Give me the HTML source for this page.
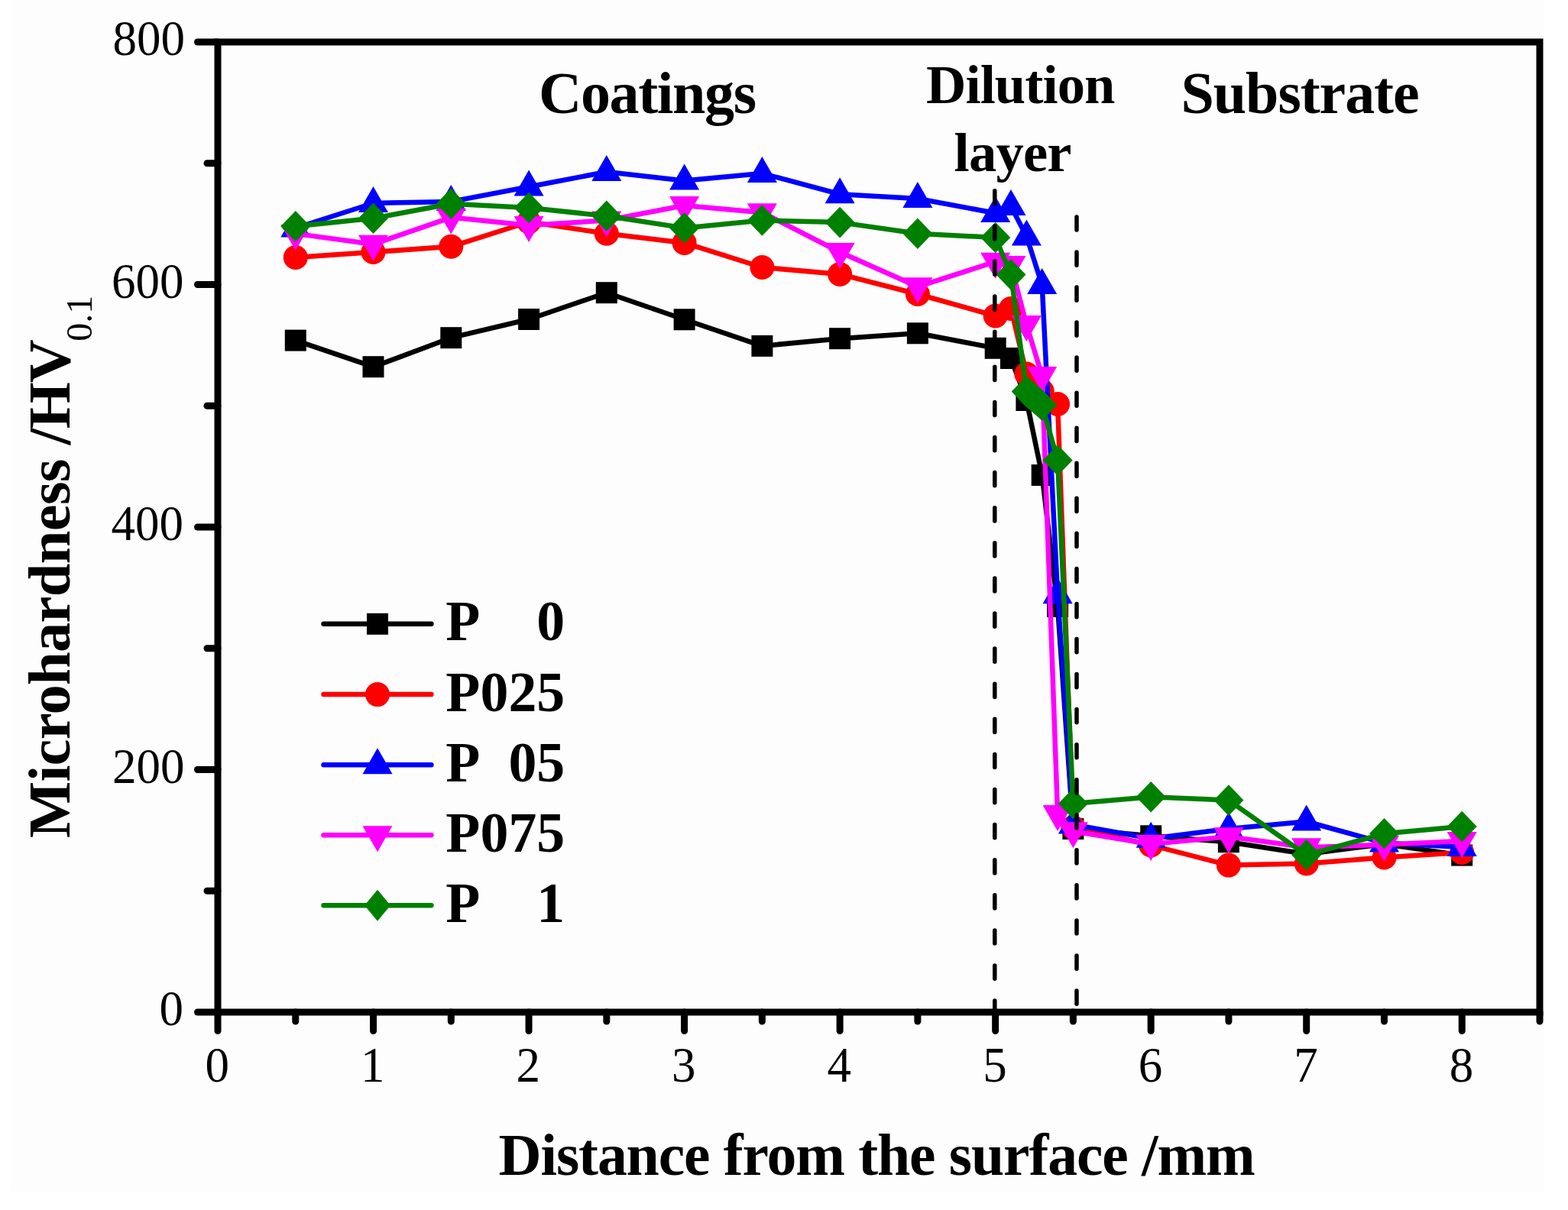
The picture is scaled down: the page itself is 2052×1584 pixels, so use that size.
<!DOCTYPE html>
<html><head><meta charset="utf-8"><title>Microhardness profile</title>
<style>html,body{margin:0;padding:0;background:#fff;}svg{display:block;}text{font-family:"Liberation Serif","Times New Roman",serif;fill:#000;}</style></head><body>
<svg width="2052" height="1584" viewBox="0 0 2052 1584">
<rect x="0" y="0" width="2052" height="1584" fill="#fff"/>
<rect x="14" y="0" width="2006" height="1560" fill="#fdfdfd"/>
<g><polyline points="386.8,445.6 488.5,480.2 590.3,442.2 692.1,418.0 793.8,383.2 895.6,418.3 997.4,452.9 1099.1,443.2 1200.9,436.3 1302.7,455.8 1323.0,469.0 1343.4,524.0 1363.7,622.0 1384.1,794.0 1404.4,1085.0 1506.2,1094.3 1607.9,1102.2 1709.7,1118.0 1811.5,1105.0 1913.2,1119.6" fill="none" stroke="#000000" stroke-width="6.5" stroke-linejoin="round" stroke-linecap="round"/>
<rect x="372.8" y="431.6" width="28" height="28" fill="#000000"/>
<rect x="474.5" y="466.2" width="28" height="28" fill="#000000"/>
<rect x="576.3" y="428.2" width="28" height="28" fill="#000000"/>
<rect x="678.1" y="404.0" width="28" height="28" fill="#000000"/>
<rect x="779.8" y="369.2" width="28" height="28" fill="#000000"/>
<rect x="881.6" y="404.3" width="28" height="28" fill="#000000"/>
<rect x="983.4" y="438.9" width="28" height="28" fill="#000000"/>
<rect x="1085.1" y="429.2" width="28" height="28" fill="#000000"/>
<rect x="1186.9" y="422.3" width="28" height="28" fill="#000000"/>
<rect x="1288.7" y="441.8" width="28" height="28" fill="#000000"/>
<rect x="1309.0" y="455.0" width="28" height="28" fill="#000000"/>
<rect x="1329.4" y="510.0" width="28" height="28" fill="#000000"/>
<rect x="1349.7" y="608.0" width="28" height="28" fill="#000000"/>
<rect x="1370.1" y="780.0" width="28" height="28" fill="#000000"/>
<rect x="1390.4" y="1071.0" width="28" height="28" fill="#000000"/>
<rect x="1492.2" y="1080.3" width="28" height="28" fill="#000000"/>
<rect x="1593.9" y="1088.2" width="28" height="28" fill="#000000"/>
<rect x="1695.7" y="1104.0" width="28" height="28" fill="#000000"/>
<rect x="1797.5" y="1091.0" width="28" height="28" fill="#000000"/>
<rect x="1899.2" y="1105.6" width="28" height="28" fill="#000000"/>
</g>
<g><polyline points="386.8,337.0 488.5,330.0 590.3,322.8 692.1,290.5 793.8,305.7 895.6,317.9 997.4,350.0 1099.1,358.9 1200.9,385.0 1302.7,413.5 1323.0,404.0 1343.4,489.5 1363.7,512.0 1384.1,529.0 1404.4,1083.0 1506.2,1106.4 1607.9,1132.6 1709.7,1130.5 1811.5,1122.5 1913.2,1116.0" fill="none" stroke="#ff0000" stroke-width="6.5" stroke-linejoin="round" stroke-linecap="round"/>
<circle cx="386.8" cy="337.0" r="16" fill="#ff0000"/>
<circle cx="488.5" cy="330.0" r="16" fill="#ff0000"/>
<circle cx="590.3" cy="322.8" r="16" fill="#ff0000"/>
<circle cx="692.1" cy="290.5" r="16" fill="#ff0000"/>
<circle cx="793.8" cy="305.7" r="16" fill="#ff0000"/>
<circle cx="895.6" cy="317.9" r="16" fill="#ff0000"/>
<circle cx="997.4" cy="350.0" r="16" fill="#ff0000"/>
<circle cx="1099.1" cy="358.9" r="16" fill="#ff0000"/>
<circle cx="1200.9" cy="385.0" r="16" fill="#ff0000"/>
<circle cx="1302.7" cy="413.5" r="16" fill="#ff0000"/>
<circle cx="1323.0" cy="404.0" r="16" fill="#ff0000"/>
<circle cx="1343.4" cy="489.5" r="16" fill="#ff0000"/>
<circle cx="1363.7" cy="512.0" r="16" fill="#ff0000"/>
<circle cx="1384.1" cy="529.0" r="16" fill="#ff0000"/>
<circle cx="1404.4" cy="1083.0" r="16" fill="#ff0000"/>
<circle cx="1506.2" cy="1106.4" r="16" fill="#ff0000"/>
<circle cx="1607.9" cy="1132.6" r="16" fill="#ff0000"/>
<circle cx="1709.7" cy="1130.5" r="16" fill="#ff0000"/>
<circle cx="1811.5" cy="1122.5" r="16" fill="#ff0000"/>
<circle cx="1913.2" cy="1116.0" r="16" fill="#ff0000"/>
</g>
<g><polyline points="386.8,298.5 488.5,266.0 590.3,263.9 692.1,244.5 793.8,225.0 895.6,236.6 997.4,227.0 1099.1,254.2 1200.9,260.0 1302.7,279.0 1323.0,270.0 1343.4,309.5 1363.7,373.0 1384.1,778.3 1404.4,1079.4 1506.2,1097.8 1607.9,1085.0 1709.7,1075.5 1811.5,1103.5 1913.2,1109.0" fill="none" stroke="#0000ff" stroke-width="6.5" stroke-linejoin="round" stroke-linecap="round"/>
<polygon points="386.8,276.5 406.3,310.5 367.3,310.5" fill="#0000ff"/>
<polygon points="488.5,244.0 508.0,278.0 469.0,278.0" fill="#0000ff"/>
<polygon points="590.3,241.9 609.8,275.9 570.8,275.9" fill="#0000ff"/>
<polygon points="692.1,222.5 711.6,256.5 672.6,256.5" fill="#0000ff"/>
<polygon points="793.8,203.0 813.3,237.0 774.3,237.0" fill="#0000ff"/>
<polygon points="895.6,214.6 915.1,248.6 876.1,248.6" fill="#0000ff"/>
<polygon points="997.4,205.0 1016.9,239.0 977.9,239.0" fill="#0000ff"/>
<polygon points="1099.1,232.2 1118.6,266.2 1079.6,266.2" fill="#0000ff"/>
<polygon points="1200.9,238.0 1220.4,272.0 1181.4,272.0" fill="#0000ff"/>
<polygon points="1302.7,257.0 1322.2,291.0 1283.2,291.0" fill="#0000ff"/>
<polygon points="1323.0,248.0 1342.5,282.0 1303.5,282.0" fill="#0000ff"/>
<polygon points="1343.4,287.5 1362.9,321.5 1323.9,321.5" fill="#0000ff"/>
<polygon points="1363.7,351.0 1383.2,385.0 1344.2,385.0" fill="#0000ff"/>
<polygon points="1384.1,756.3 1403.6,790.3 1364.6,790.3" fill="#0000ff"/>
<polygon points="1404.4,1057.4 1423.9,1091.4 1384.9,1091.4" fill="#0000ff"/>
<polygon points="1506.2,1075.8 1525.7,1109.8 1486.7,1109.8" fill="#0000ff"/>
<polygon points="1607.9,1063.0 1627.4,1097.0 1588.4,1097.0" fill="#0000ff"/>
<polygon points="1709.7,1053.5 1729.2,1087.5 1690.2,1087.5" fill="#0000ff"/>
<polygon points="1811.5,1081.5 1831.0,1115.5 1792.0,1115.5" fill="#0000ff"/>
<polygon points="1913.2,1087.0 1932.7,1121.0 1893.7,1121.0" fill="#0000ff"/>
</g>
<g><polyline points="386.8,305.9 488.5,319.8 590.3,284.6 692.1,295.0 793.8,288.5 895.6,269.0 997.4,278.2 1099.1,330.0 1200.9,375.3 1302.7,342.7 1323.0,347.0 1343.4,425.0 1363.7,492.0 1384.1,1066.0 1404.4,1088.3 1506.2,1105.0 1607.9,1095.2 1709.7,1109.3 1811.5,1105.8 1913.2,1101.0" fill="none" stroke="#ff00ff" stroke-width="6.5" stroke-linejoin="round" stroke-linecap="round"/>
<polygon points="386.8,327.9 406.3,293.9 367.3,293.9" fill="#ff00ff"/>
<polygon points="488.5,341.8 508.0,307.8 469.0,307.8" fill="#ff00ff"/>
<polygon points="590.3,306.6 609.8,272.6 570.8,272.6" fill="#ff00ff"/>
<polygon points="692.1,317.0 711.6,283.0 672.6,283.0" fill="#ff00ff"/>
<polygon points="793.8,310.5 813.3,276.5 774.3,276.5" fill="#ff00ff"/>
<polygon points="895.6,291.0 915.1,257.0 876.1,257.0" fill="#ff00ff"/>
<polygon points="997.4,300.2 1016.9,266.2 977.9,266.2" fill="#ff00ff"/>
<polygon points="1099.1,352.0 1118.6,318.0 1079.6,318.0" fill="#ff00ff"/>
<polygon points="1200.9,397.3 1220.4,363.3 1181.4,363.3" fill="#ff00ff"/>
<polygon points="1302.7,364.7 1322.2,330.7 1283.2,330.7" fill="#ff00ff"/>
<polygon points="1323.0,369.0 1342.5,335.0 1303.5,335.0" fill="#ff00ff"/>
<polygon points="1343.4,447.0 1362.9,413.0 1323.9,413.0" fill="#ff00ff"/>
<polygon points="1363.7,514.0 1383.2,480.0 1344.2,480.0" fill="#ff00ff"/>
<polygon points="1384.1,1088.0 1403.6,1054.0 1364.6,1054.0" fill="#ff00ff"/>
<polygon points="1404.4,1110.3 1423.9,1076.3 1384.9,1076.3" fill="#ff00ff"/>
<polygon points="1506.2,1127.0 1525.7,1093.0 1486.7,1093.0" fill="#ff00ff"/>
<polygon points="1607.9,1117.2 1627.4,1083.2 1588.4,1083.2" fill="#ff00ff"/>
<polygon points="1709.7,1131.3 1729.2,1097.3 1690.2,1097.3" fill="#ff00ff"/>
<polygon points="1811.5,1127.8 1831.0,1093.8 1792.0,1093.8" fill="#ff00ff"/>
<polygon points="1913.2,1123.0 1932.7,1089.0 1893.7,1089.0" fill="#ff00ff"/>
</g>
<g><polyline points="386.8,296.3 488.5,285.8 590.3,266.8 692.1,272.0 793.8,282.8 895.6,298.4 997.4,288.5 1099.1,291.1 1200.9,305.7 1302.7,311.0 1323.0,359.5 1343.4,512.6 1363.7,530.3 1384.1,602.5 1404.4,1052.0 1506.2,1043.3 1607.9,1047.6 1709.7,1119.3 1811.5,1091.3 1913.2,1082.0" fill="none" stroke="#008000" stroke-width="6.5" stroke-linejoin="round" stroke-linecap="round"/>
<polygon points="386.8,276.0 406.3,296.3 386.8,316.6 367.3,296.3" fill="#008000"/>
<polygon points="488.5,265.5 508.0,285.8 488.5,306.1 469.0,285.8" fill="#008000"/>
<polygon points="590.3,246.5 609.8,266.8 590.3,287.1 570.8,266.8" fill="#008000"/>
<polygon points="692.1,251.7 711.6,272.0 692.1,292.3 672.6,272.0" fill="#008000"/>
<polygon points="793.8,262.5 813.3,282.8 793.8,303.1 774.3,282.8" fill="#008000"/>
<polygon points="895.6,278.1 915.1,298.4 895.6,318.7 876.1,298.4" fill="#008000"/>
<polygon points="997.4,268.2 1016.9,288.5 997.4,308.8 977.9,288.5" fill="#008000"/>
<polygon points="1099.1,270.8 1118.6,291.1 1099.1,311.4 1079.6,291.1" fill="#008000"/>
<polygon points="1200.9,285.4 1220.4,305.7 1200.9,326.0 1181.4,305.7" fill="#008000"/>
<polygon points="1302.7,290.7 1322.2,311.0 1302.7,331.3 1283.2,311.0" fill="#008000"/>
<polygon points="1323.0,339.2 1342.5,359.5 1323.0,379.8 1303.5,359.5" fill="#008000"/>
<polygon points="1343.4,492.3 1362.9,512.6 1343.4,532.9 1323.9,512.6" fill="#008000"/>
<polygon points="1363.7,510.0 1383.2,530.3 1363.7,550.6 1344.2,530.3" fill="#008000"/>
<polygon points="1384.1,582.2 1403.6,602.5 1384.1,622.8 1364.6,602.5" fill="#008000"/>
<polygon points="1404.4,1031.7 1423.9,1052.0 1404.4,1072.3 1384.9,1052.0" fill="#008000"/>
<polygon points="1506.2,1023.0 1525.7,1043.3 1506.2,1063.6 1486.7,1043.3" fill="#008000"/>
<polygon points="1607.9,1027.3 1627.4,1047.6 1607.9,1067.9 1588.4,1047.6" fill="#008000"/>
<polygon points="1709.7,1099.0 1729.2,1119.3 1709.7,1139.6 1690.2,1119.3" fill="#008000"/>
<polygon points="1811.5,1071.0 1831.0,1091.3 1811.5,1111.6 1792.0,1091.3" fill="#008000"/>
<polygon points="1913.2,1061.7 1932.7,1082.0 1913.2,1102.3 1893.7,1082.0" fill="#008000"/>
<polygon points="1323.9,512.6 1343.4,492.3 1363.7,510.0 1383.2,530.3 1363.7,550.6 1343.4,532.9" fill="#008000"/>
</g>
<line x1="1301.8" y1="249.8" x2="1301.8" y2="1320" stroke="#000" stroke-width="5.5" stroke-linecap="round" stroke-dasharray="17.2 28.9"/>
<line x1="1409" y1="283.9" x2="1409" y2="1320" stroke="#000" stroke-width="5.5" stroke-linecap="round" stroke-dasharray="17.2 28.85"/>
<rect x="285" y="55" width="1730" height="1270" fill="none" stroke="#000" stroke-width="9"/>
<line x1="285" y1="1325.00" x2="258.5" y2="1325.00" stroke="#000" stroke-width="9" stroke-linecap="round"/>
<line x1="285" y1="1166.25" x2="271" y2="1166.25" stroke="#000" stroke-width="9" stroke-linecap="round"/>
<line x1="285" y1="1007.50" x2="258.5" y2="1007.50" stroke="#000" stroke-width="9" stroke-linecap="round"/>
<line x1="285" y1="848.75" x2="271" y2="848.75" stroke="#000" stroke-width="9" stroke-linecap="round"/>
<line x1="285" y1="690.00" x2="258.5" y2="690.00" stroke="#000" stroke-width="9" stroke-linecap="round"/>
<line x1="285" y1="531.25" x2="271" y2="531.25" stroke="#000" stroke-width="9" stroke-linecap="round"/>
<line x1="285" y1="372.50" x2="258.5" y2="372.50" stroke="#000" stroke-width="9" stroke-linecap="round"/>
<line x1="285" y1="213.75" x2="271" y2="213.75" stroke="#000" stroke-width="9" stroke-linecap="round"/>
<line x1="285" y1="55.00" x2="258.5" y2="55.00" stroke="#000" stroke-width="9" stroke-linecap="round"/>
<line x1="285.00" y1="1325" x2="285.00" y2="1349.5" stroke="#000" stroke-width="9" stroke-linecap="round"/>
<line x1="386.76" y1="1325" x2="386.76" y2="1337" stroke="#000" stroke-width="9" stroke-linecap="round"/>
<line x1="488.53" y1="1325" x2="488.53" y2="1349.5" stroke="#000" stroke-width="9" stroke-linecap="round"/>
<line x1="590.30" y1="1325" x2="590.30" y2="1337" stroke="#000" stroke-width="9" stroke-linecap="round"/>
<line x1="692.06" y1="1325" x2="692.06" y2="1349.5" stroke="#000" stroke-width="9" stroke-linecap="round"/>
<line x1="793.83" y1="1325" x2="793.83" y2="1337" stroke="#000" stroke-width="9" stroke-linecap="round"/>
<line x1="895.59" y1="1325" x2="895.59" y2="1349.5" stroke="#000" stroke-width="9" stroke-linecap="round"/>
<line x1="997.36" y1="1325" x2="997.36" y2="1337" stroke="#000" stroke-width="9" stroke-linecap="round"/>
<line x1="1099.12" y1="1325" x2="1099.12" y2="1349.5" stroke="#000" stroke-width="9" stroke-linecap="round"/>
<line x1="1200.88" y1="1325" x2="1200.88" y2="1337" stroke="#000" stroke-width="9" stroke-linecap="round"/>
<line x1="1302.65" y1="1325" x2="1302.65" y2="1349.5" stroke="#000" stroke-width="9" stroke-linecap="round"/>
<line x1="1404.41" y1="1325" x2="1404.41" y2="1337" stroke="#000" stroke-width="9" stroke-linecap="round"/>
<line x1="1506.18" y1="1325" x2="1506.18" y2="1349.5" stroke="#000" stroke-width="9" stroke-linecap="round"/>
<line x1="1607.94" y1="1325" x2="1607.94" y2="1337" stroke="#000" stroke-width="9" stroke-linecap="round"/>
<line x1="1709.71" y1="1325" x2="1709.71" y2="1349.5" stroke="#000" stroke-width="9" stroke-linecap="round"/>
<line x1="1811.47" y1="1325" x2="1811.47" y2="1337" stroke="#000" stroke-width="9" stroke-linecap="round"/>
<line x1="1913.24" y1="1325" x2="1913.24" y2="1349.5" stroke="#000" stroke-width="9" stroke-linecap="round"/>
<line x1="2015.01" y1="1325" x2="2015.01" y2="1337" stroke="#000" stroke-width="9" stroke-linecap="round"/>
<text transform="translate(240.1,1342.0) scale(0.955,1)" font-size="66" text-anchor="end">0</text>
<text transform="translate(241.6,1024.5) scale(0.955,1)" font-size="66" text-anchor="end">200</text>
<text transform="translate(240.1,707.0) scale(0.955,1)" font-size="66" text-anchor="end">400</text>
<text transform="translate(240.5,389.5) scale(0.955,1)" font-size="66" text-anchor="end">600</text>
<text transform="translate(242.1,72.0) scale(0.955,1)" font-size="66" text-anchor="end">800</text>
<text transform="translate(284.2,1416.2) scale(0.955,1)" font-size="66" text-anchor="middle">0</text>
<text transform="translate(487.7,1416.2) scale(0.955,1)" font-size="66" text-anchor="middle">1</text>
<text transform="translate(691.3,1416.2) scale(0.955,1)" font-size="66" text-anchor="middle">2</text>
<text transform="translate(894.8,1416.2) scale(0.955,1)" font-size="66" text-anchor="middle">3</text>
<text transform="translate(1098.3,1416.2) scale(0.955,1)" font-size="66" text-anchor="middle">4</text>
<text transform="translate(1301.9,1416.2) scale(0.955,1)" font-size="66" text-anchor="middle">5</text>
<text transform="translate(1505.4,1416.2) scale(0.955,1)" font-size="66" text-anchor="middle">6</text>
<text transform="translate(1708.9,1416.2) scale(0.955,1)" font-size="66" text-anchor="middle">7</text>
<text transform="translate(1912.4,1416.2) scale(0.955,1)" font-size="66" text-anchor="middle">8</text>
<text x="652.5" y="1537.5" font-size="77.7" font-weight="bold" textLength="990.3" lengthAdjust="spacing">Distance from the surface /mm</text>
<text transform="translate(90.7,1097) rotate(-90)" font-size="78.6" font-weight="bold" textLength="652.9" lengthAdjust="spacing">Microhardness /HV</text>
<text transform="translate(119.5,446.8) rotate(-90)" font-size="48">0.1</text>
<text x="705" y="148" font-size="78" font-weight="bold" textLength="285" lengthAdjust="spacing">Coatings</text>
<text x="1212" y="134.5" font-size="72.5" font-weight="bold" textLength="247.3" lengthAdjust="spacing">Dilution</text>
<text x="1248.5" y="224.4" font-size="72.5" font-weight="bold" textLength="154" lengthAdjust="spacing">layer</text>
<text x="1545.5" y="148" font-size="78" font-weight="bold" textLength="312.1" lengthAdjust="spacing">Substrate</text>
<line x1="423.5" y1="816.8" x2="564.4" y2="816.8" stroke="#000000" stroke-width="6.5" stroke-linecap="round"/>
<rect x="480.0" y="802.8" width="28" height="28" fill="#000000"/>
<text x="583.2" y="838.2" font-size="73.8" font-weight="bold">P</text>
<text x="739.2" y="838.2" font-size="73.8" font-weight="bold" text-anchor="end">0</text>
<line x1="423.5" y1="909.1" x2="564.4" y2="909.1" stroke="#ff0000" stroke-width="6.5" stroke-linecap="round"/>
<circle cx="494.0" cy="909.1" r="16" fill="#ff0000"/>
<text x="583.2" y="930.5" font-size="73.8" font-weight="bold">P</text>
<text x="739.2" y="930.5" font-size="73.8" font-weight="bold" text-anchor="end">025</text>
<line x1="423.5" y1="1001.2" x2="564.4" y2="1001.2" stroke="#0000ff" stroke-width="6.5" stroke-linecap="round"/>
<polygon points="494.0,979.2 513.5,1013.2 474.5,1013.2" fill="#0000ff"/>
<text x="583.2" y="1022.6" font-size="73.8" font-weight="bold">P</text>
<text x="739.2" y="1022.6" font-size="73.8" font-weight="bold" text-anchor="end">05</text>
<line x1="423.5" y1="1093.2" x2="564.4" y2="1093.2" stroke="#ff00ff" stroke-width="6.5" stroke-linecap="round"/>
<polygon points="494.0,1115.2 513.5,1081.2 474.5,1081.2" fill="#ff00ff"/>
<text x="583.2" y="1114.6" font-size="73.8" font-weight="bold">P</text>
<text x="739.2" y="1114.6" font-size="73.8" font-weight="bold" text-anchor="end">075</text>
<line x1="423.5" y1="1185.2" x2="564.4" y2="1185.2" stroke="#008000" stroke-width="6.5" stroke-linecap="round"/>
<polygon points="494.0,1164.7 511.0,1185.2 494.0,1205.7 477.0,1185.2" fill="#008000"/>
<text x="583.2" y="1206.6" font-size="73.8" font-weight="bold">P</text>
<text x="739.2" y="1206.6" font-size="73.8" font-weight="bold" text-anchor="end">1</text>
</svg>
</body></html>
